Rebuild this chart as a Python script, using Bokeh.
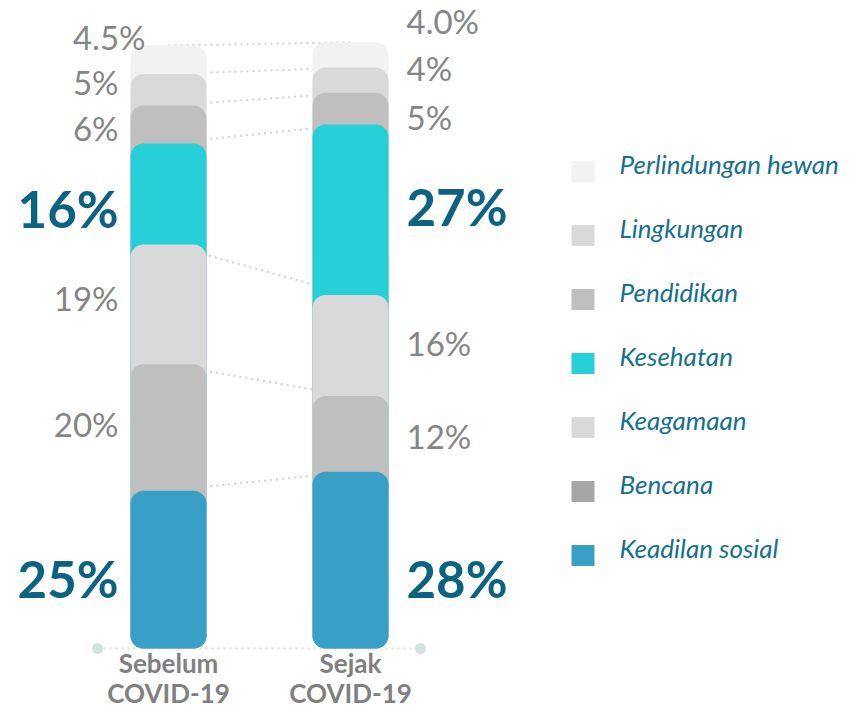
from bokeh.plotting import figure
from bokeh.models import Range1d, ColumnDataSource
from bokeh.core.properties import value
from bokeh.embed import file_html
from bokeh.resources import INLINE

# ---------------- data ----------------
categories = ["Perlindungan hewan", "Lingkungan", "Pendidikan", "Kesehatan",
              "Keagamaan", "Bencana", "Keadilan sosial"]
periods = ["Sebelum\nCOVID-19", "Sejak\nCOVID-19"]
before = [4.5, 5, 6, 16, 19, 20, 25]
since = [4.0, 4, 5, 27, 16, 12, 28]
labels_before = ["4.5%", "5%", "6%", "16%", "19%", "20%", "25%"]
labels_since = ["4.0%", "4%", "5%", "27%", "16%", "12%", "28%"]
highlight = [False, False, False, True, False, False, True]

# ---------------- style ----------------
bar_colors = ["#f2f2f2", "#d9d9d9", "#bfbfbf", "#27cfd8", "#d9d9d9", "#bfbfbf", "#389fc6"]
legend_colors = ["#f2f2f2", "#d9d9d9", "#bfbfbf", "#27cfd8", "#d9d9d9", "#a6a6a6", "#389fc6"]
GRAY_TXT = "#858585"
TEAL_TXT = "#0b6282"
LEG_TXT = "#17708c"
FONT = "Lato"

W, H = 847, 710
BASE_PX = 648.0        # pixel row (from top) of value 0
PX_PER = 6.314         # pixels per percentage point
bar_x = [168, 350]
BAR_W = 76

# per-label pixel nudges (positive = down / right)
dy_before = [-23, -8, 4, 15, -6, -4, 9]
dx_before = [27, 0, 0, 0, 0, 0, 0]
dy_since = [-34, -12, 8, -3, -2, 2, 18]

p = figure(width=W, height=H, output_backend="svg", toolbar_location=None,
           x_range=Range1d(0, W),
           y_range=Range1d(-(H - BASE_PX) / PX_PER, BASE_PX / PX_PER),
           x_axis_location=None, y_axis_location=None, min_border=0)
p.extra_y_ranges = {"px": Range1d(H, 0)}
p.outline_line_color = None
p.xgrid.visible = False
p.ygrid.visible = False
p.background_fill_color = "white"
p.border_fill_color = "white"


def stack(vals):
    tops, centers = [], []
    for i in range(len(vals)):
        t = sum(vals[i:])
        b = sum(vals[i + 1:])
        tops.append(t)
        centers.append((t + b) / 2)
    return tops, centers


tops_b, cen_b = stack(before)
tops_s, cen_s = stack(since)

# connectors between segment tops
p.segment(x0=[bar_x[0]] * len(tops_b), y0=tops_b, x1=[bar_x[1]] * len(tops_s), y1=tops_s,
          line_color="#d2d2d2", line_width=2, line_dash="2 4")

# baseline with dots
p.segment(x0=[bar_x[0] - 71], y0=[0], x1=[bar_x[1] + 70], y1=[0],
          line_color="#d6dfdf", line_width=2, line_dash="2 4")
p.scatter(x=[bar_x[0] - 71, bar_x[1] + 70], y=[0, 0], size=11,
          fill_color="#d6e0e0", line_color=None)

# stacked rounded bars
for bx, tops in zip(bar_x, [tops_b, tops_s]):
    src = ColumnDataSource(dict(x=[bx] * len(tops), top=tops, color=bar_colors))
    p.vbar(x="x", top="top", bottom=0, width=BAR_W, source=src,
           fill_color="color", line_color=None, border_radius=13)


# value labels
def add_labels(xpos, cens, labels, dys, dxs, align):
    for c, lab, hl, dy, dx in zip(cens, labels, highlight, dys, dxs):
        p.text(x=[xpos], y=[c], text=[lab], x_offset=dx, y_offset=dy,
               text_align=align, text_baseline="middle",
               text_font=value(FONT),
               text_font_size="51px" if hl else "33px",
               text_font_style="bold" if hl else "normal",
               text_color=TEAL_TXT if hl else GRAY_TXT)


add_labels(118, cen_b, labels_before, dy_before, dx_before, "right")
add_labels(406, cen_s, labels_since, dy_since, [0] * 7, "left")

# period labels (pixel coords)
for bx, per in zip(bar_x, periods):
    lines = per.split("\n")
    for k, ln in enumerate(lines):
        p.text(x=[bx], y=[662 + 30 * k], text=[ln], y_range_name="px",
               text_align="center", text_baseline="middle",
               text_font=value(FONT), text_font_size="26px",
               text_font_style="bold", text_color="#808080")

# legend (pixel coords)
leg_y = [163 + 64 * i for i in range(len(categories))]
p.rect(x=[582.5] * len(categories), y=[v + 8 for v in leg_y], width=23, height=21,
       fill_color=legend_colors, line_color=None, y_range_name="px")
p.text(x=[619] * len(categories), y=leg_y, text=categories, y_range_name="px",
       text_align="left", text_baseline="middle", text_font=value(FONT),
       text_font_size="26px", text_font_style="italic", text_color=LEG_TXT)

open("out.html", "w").write(file_html(p, INLINE))
